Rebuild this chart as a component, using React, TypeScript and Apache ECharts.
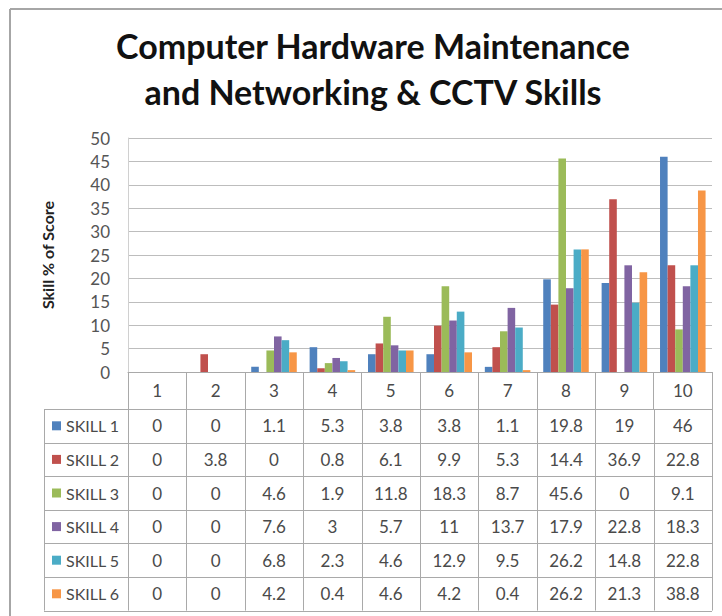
import React, { useEffect, useRef } from "react";
import * as echarts from "echarts";

const categories = ["1", "2", "3", "4", "5", "6", "7", "8", "9", "10"];
const seriesNames = ["SKILL 1", "SKILL 2", "SKILL 3", "SKILL 4", "SKILL 5", "SKILL 6"];
const skill1 = [0, 0, 1.1, 5.3, 3.8, 3.8, 1.1, 19.8, 19, 46];
const skill2 = [0, 3.8, 0, 0.8, 6.1, 9.9, 5.3, 14.4, 36.9, 22.8];
const skill3 = [0, 0, 4.6, 1.9, 11.8, 18.3, 8.7, 45.6, 0, 9.1];
const skill4 = [0, 0, 7.6, 3, 5.7, 11, 13.7, 17.9, 22.8, 18.3];
const skill5 = [0, 0, 6.8, 2.3, 4.6, 12.9, 9.5, 26.2, 14.8, 22.8];
const skill6 = [0, 0, 4.2, 0.4, 4.6, 4.2, 0.4, 26.2, 21.3, 38.8];
const yTicks = [0, 5, 10, 15, 20, 25, 30, 35, 40, 45, 50];

const allSeries = [skill1, skill2, skill3, skill4, skill5, skill6];
const palette = ["#4F81BD", "#C0504D", "#9BBB59", "#8064A2", "#4BACC6", "#F79646"];

const FONT = "Lato, 'Open Sans', sans-serif";
const LINE = "#a9a9a9";
const TEXT = "#4a4a4a";

export default function App() {
  const ref = useRef<HTMLDivElement>(null);
  useEffect(() => {
    if (!ref.current) return;
    const chart = echarts.init(ref.current, null, { renderer: "svg" });
    const option: any = {
      animation: false,
      backgroundColor: "#ffffff",
      color: palette,
      title: {
        text: "Computer Hardware Maintenance\nand Networking & CCTV Skills",
        left: 368,
        top: 17,
        textAlign: "center",
        textStyle: {
          fontFamily: FONT,
          fontWeight: "bold",
          fontSize: 34,
          lineHeight: 46,
          color: "#111111",
        },
      },
      grid: { left: 128, right: 10, top: 138, bottom: 244, containLabel: false },
      xAxis: {
        type: "category",
        data: categories,
        axisLine: { show: true, lineStyle: { color: LINE, width: 1 } },
        axisTick: { show: true, length: 37, lineStyle: { color: LINE, width: 1 } },
        axisLabel: { fontFamily: FONT, fontSize: 17, color: TEXT, margin: 10 },
        splitLine: { show: false },
      },
      yAxis: {
        type: "value",
        min: 0,
        max: 50,
        interval: 5,
        name: "Skill % of Score",
        nameLocation: "middle",
        nameGap: 73,
        nameRotate: 90,
        nameTextStyle: { fontFamily: FONT, fontWeight: "bold", fontSize: 16, color: "#222222" },
        axisLine: { show: true, lineStyle: { color: "#d0d0d0" } },
        axisTick: { show: false },
        axisLabel: {
          fontFamily: FONT,
          fontSize: 17,
          color: "#555555",
          margin: 18,
          formatter: (v: number) => (yTicks.indexOf(v) >= 0 ? String(v) : ""),
        },
        splitLine: { show: true, lineStyle: { color: "#bdbdbd", width: 1 } },
      },
      series: allSeries.map((d, i) => ({
        type: "bar",
        name: seriesNames[i],
        data: d,
        barGap: "0%",
        barCategoryGap: "22%",
        itemStyle: { color: palette[i] },
      })),
    };
    chart.setOption(option);

    const cx0 = chart.convertToPixel({ xAxisIndex: 0 }, 0) as number;
    const cx1 = chart.convertToPixel({ xAxisIndex: 0 }, 1) as number;
    const colW = cx1 - cx0;
    const plotLeft = cx0 - colW / 2;
    const plotRight = plotLeft + colW * categories.length;
    const y0 = chart.convertToPixel({ yAxisIndex: 0 }, 0) as number;
    const tableTop = y0 + 37;
    const rowH = 33.6;
    const tableLeft = 44;
    const tableBottom = tableTop + rowH * seriesNames.length;

    const g: any[] = [];
    g.push({ type: "line", shape: { x1: 10, y1: 9, x2: 722, y2: 9 }, style: { stroke: "#a6a6a6", lineWidth: 2 } });
    g.push({ type: "line", shape: { x1: 10, y1: 9, x2: 10, y2: 616 }, style: { stroke: "#a6a6a6", lineWidth: 2 } });
    for (let r = 0; r <= seriesNames.length; r++) {
      const y = Math.round(tableTop + r * rowH) + 0.5;
      g.push({ type: "line", shape: { x1: tableLeft, y1: y, x2: plotRight, y2: y }, style: { stroke: LINE, lineWidth: 1 } });
    }
    g.push({ type: "line", shape: { x1: tableLeft + 0.5, y1: tableTop, x2: tableLeft + 0.5, y2: tableBottom }, style: { stroke: LINE, lineWidth: 1 } });
    for (let c = 0; c <= categories.length; c++) {
      const x = Math.round(plotLeft + c * colW) + 0.5;
      g.push({ type: "line", shape: { x1: x, y1: tableTop, x2: x, y2: tableBottom }, style: { stroke: LINE, lineWidth: 1 } });
    }
    seriesNames.forEach((name, r) => {
      const cy = tableTop + (r + 0.5) * rowH;
      g.push({ type: "rect", shape: { x: 52, y: cy - 4.5, width: 9, height: 9 }, style: { fill: palette[r] } });
      g.push({
        type: "text",
        x: 66,
        y: cy,
        style: { text: name, fontFamily: FONT, fontSize: 16, fill: TEXT, verticalAlign: "middle", align: "left" },
      });
      allSeries[r].forEach((v, c) => {
        const x = chart.convertToPixel({ xAxisIndex: 0 }, c) as number;
        g.push({
          type: "text",
          x,
          y: cy,
          style: { text: String(v), fontFamily: FONT, fontSize: 17, fill: TEXT, align: "center", verticalAlign: "middle" },
        });
      });
    });
    chart.setOption({ graphic: g });

    return () => chart.dispose();
  }, []);
  return <div ref={ref} style={{ position: "fixed", left: 0, top: 0, width: 722, height: 616 }} />;
}
